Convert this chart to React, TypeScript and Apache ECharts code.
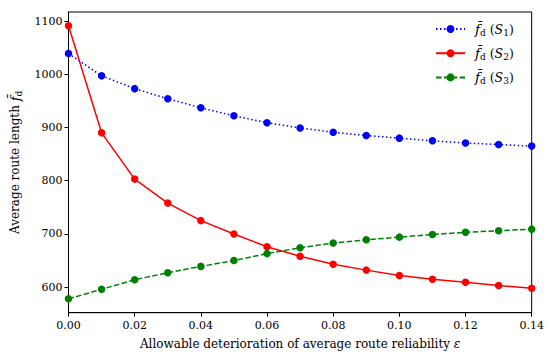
import React, { useEffect, useRef } from "react";
import * as echarts from "echarts";

const epsilon = [0, 0.01, 0.02, 0.03, 0.04, 0.05, 0.06, 0.07, 0.08, 0.09, 0.1, 0.11, 0.12, 0.13, 0.14];
const s1 = [1039, 997, 973, 954, 937, 922, 909, 899, 891, 885, 880, 875, 871, 868, 865];
const s2 = [1091, 890, 803, 758, 725, 700, 676, 658, 643, 632, 622, 615, 609, 603, 598];
const s3 = [578, 596, 614, 627, 639, 650, 663, 674, 683, 689, 694, 699, 703, 706, 709];
const seriesNames = ["1", "2", "3"];
const xTicks = [0, 0.02, 0.04, 0.06, 0.08, 0.1, 0.12, 0.14];
const yTicks = [600, 700, 800, 900, 1000, 1100];

const FONT = "'DejaVu Serif', 'Liberation Serif', serif";
const FS = 11;
const NS = 12;

const rich = {
  r: { fontFamily: FONT, fontSize: NS, color: "#000", lineHeight: 17 },
  f: { fontFamily: FONT, fontSize: NS + 1, fontStyle: "italic", color: "#000", lineHeight: 17 },
  d: { fontFamily: FONT, fontSize: 9, color: "#000", lineHeight: 11, verticalAlign: "bottom" },
  s: { fontFamily: FONT, fontSize: NS, fontStyle: "italic", color: "#000", lineHeight: 17 },
  n: { fontFamily: FONT, fontSize: 9, color: "#000", lineHeight: 11, verticalAlign: "bottom" },
};

const legendRich = {
  r: { ...rich.r, fontSize: 12.5 },
  f: { ...rich.f, fontSize: 13.5 },
  d: rich.d,
  s: { ...rich.s, fontSize: 12.5 },
  n: rich.n,
};

export default function App() {
  const ref = useRef<HTMLDivElement>(null);
  useEffect(() => {
    if (!ref.current) return;
    const chart = echarts.init(ref.current, null, { renderer: "svg" });
    const mk = (vals: number[]) => epsilon.map((x, i) => [x, vals[i]]);
    chart.setOption({
      animation: false,
      backgroundColor: "#fff",
      grid: {
        left: 68.5,
        right: 18.3,
        top: 12,
        bottom: 46.3,
        show: true,
        borderColor: "#000",
        borderWidth: 1,
        backgroundColor: "transparent",
      },
      legend: {
        orient: "vertical",
        left: 435,
        top: 22,
        padding: 0,
        itemGap: 8.7,
        itemWidth: 29,
        itemHeight: 10,
        data: seriesNames,
        formatter: (name: string) => `{f|f\u0304}{d|d}{r| (}{s|S}{n|${name}}{r|)}`,
        textStyle: { rich: legendRich, padding: [0, 0, 0, 5] },
      },
      xAxis: {
        type: "value",
        min: 0,
        max: 0.14,
        splitLine: { show: false },
        axisLine: { show: true, lineStyle: { color: "#000", width: 1 } },
        axisTick: { show: true, length: 4, lineStyle: { color: "#000" }, customValues: xTicks },
        axisLabel: {
          customValues: xTicks,
          formatter: (v: number) => v.toFixed(2),
          fontFamily: FONT,
          fontSize: FS,
          color: "#000",
          margin: 7,
        },
        name: "{r|Allowable deterioration of average route reliability }{s|ε}",
        nameLocation: "middle",
        nameGap: 23,
        nameTextStyle: { rich },
      },
      yAxis: {
        type: "value",
        min: 552,
        max: 1117,
        splitLine: { show: false },
        axisLine: { show: true, lineStyle: { color: "#000", width: 1 } },
        axisTick: { show: true, length: 4, lineStyle: { color: "#000" }, customValues: yTicks },
        axisLabel: {
          customValues: yTicks,
          formatter: (v: number) => String(v),
          fontFamily: FONT,
          fontSize: FS,
          color: "#000",
          margin: 6,
        },
        name: "{r|Average route length }{f|f\u0304}{d|d}",
        nameLocation: "middle",
        nameGap: 45,
        nameTextStyle: { rich },
      },
      series: [
        {
          name: "1",
          type: "line",
          data: mk(s1),
          symbol: "circle",
          symbolSize: 7.5,
          color: "#0000ff",
          lineStyle: { color: "#0000ff", width: 1.5, type: [1.5, 2.5] },
          z: 3,
        },
        {
          name: "2",
          type: "line",
          data: mk(s2),
          symbol: "circle",
          symbolSize: 7.5,
          color: "#ff0000",
          lineStyle: { color: "#ff0000", width: 1.5, type: "solid" },
          z: 4,
        },
        {
          name: "3",
          type: "line",
          data: mk(s3),
          symbol: "circle",
          symbolSize: 7.5,
          color: "#008000",
          lineStyle: { color: "#008000", width: 1.5, type: [5.5, 2.4] },
          z: 5,
        },
      ],
    });
    return () => chart.dispose();
  }, []);
  return <div ref={ref} style={{ width: 550, height: 359, position: "absolute", left: 0, top: 0 }} />;
}
